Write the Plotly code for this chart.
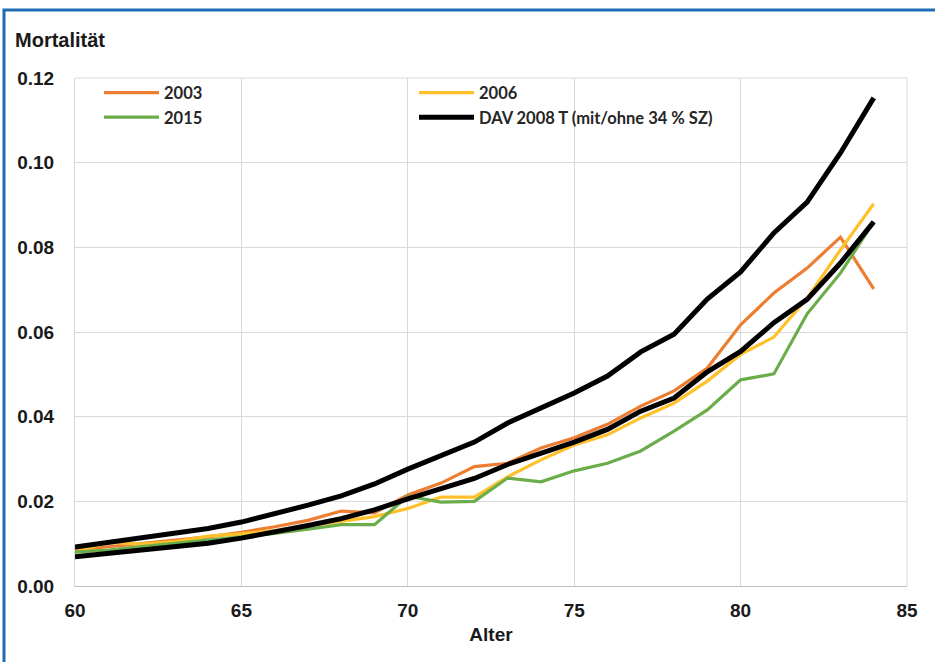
import plotly.graph_objects as go

ages = list(range(60, 85))

mort_2003 = [0.0085, 0.0093, 0.0101, 0.0108, 0.0116, 0.0127, 0.0140, 0.0155, 0.0177, 0.0173,
             0.0215, 0.0243, 0.0282, 0.0290, 0.0326, 0.0350, 0.0382, 0.0425, 0.0461, 0.0515,
             0.0617, 0.0692, 0.0751, 0.0824, 0.0702]
mort_2006 = [0.0080, 0.0103, 0.0099, 0.0105, 0.0118, 0.0123, 0.0131, 0.0142, 0.0152, 0.0164,
             0.0183, 0.0210, 0.0210, 0.0258, 0.0298, 0.0333, 0.0357, 0.0397, 0.0432, 0.0484,
             0.0547, 0.0588, 0.0680, 0.0794, 0.0903]
mort_2015 = [0.0080, 0.0085, 0.0093, 0.0101, 0.0109, 0.0117, 0.0124, 0.0134, 0.0145, 0.0145,
             0.0212, 0.0198, 0.0200, 0.0255, 0.0246, 0.0272, 0.0290, 0.0319, 0.0366, 0.0416,
             0.0487, 0.0501, 0.0643, 0.0739, 0.0860]
dav_mit_sz = [0.0092, 0.0103, 0.0114, 0.0125, 0.0136, 0.0151, 0.0170, 0.0191, 0.0213, 0.0241,
              0.0276, 0.0307, 0.0340, 0.0385, 0.0420, 0.0456, 0.0496, 0.0553, 0.0595, 0.0678,
              0.0742, 0.0834, 0.0907, 0.1023, 0.1153]
dav_ohne_sz = [0.0069, 0.0077, 0.0085, 0.0093, 0.0101, 0.0113, 0.0127, 0.0143, 0.0159, 0.0180,
               0.0206, 0.0229, 0.0254, 0.0287, 0.0313, 0.0340, 0.0370, 0.0413, 0.0444, 0.0506,
               0.0554, 0.0622, 0.0677, 0.0763, 0.0860]

x_ticks = [60, 65, 70, 75, 80, 85]
y_ticks = [0.00, 0.02, 0.04, 0.06, 0.08, 0.10, 0.12]
y_tick_labels = ["0.00", "0.02", "0.04", "0.06", "0.08", "0.10", "0.12"]

fig = go.Figure()
fig.add_trace(go.Scatter(x=ages, y=mort_2003, mode="lines", name="2003",
                         line=dict(color="#ED7D31", width=3.2)))
fig.add_trace(go.Scatter(x=ages, y=mort_2006, mode="lines", name="2006",
                         line=dict(color="#FFC02A", width=3.2)))
fig.add_trace(go.Scatter(x=ages, y=mort_2015, mode="lines", name="2015",
                         line=dict(color="#6AAD4A", width=3.2)))
fig.add_trace(go.Scatter(x=ages, y=dav_mit_sz, mode="lines", name="DAV 2008 T (mit/ohne 34 % SZ)",
                         line=dict(color="#000000", width=5)))
fig.add_trace(go.Scatter(x=ages, y=dav_ohne_sz, mode="lines", name="DAV 2008 T ohne SZ",
                         showlegend=False, line=dict(color="#000000", width=5)))

tick_font = dict(family="Liberation Sans, Arial, sans-serif", size=19, color="#1a1a1a")

fig.update_layout(
    width=935, height=662,
    margin=dict(l=75, r=28, t=78, b=76),
    paper_bgcolor="white", plot_bgcolor="white",
    showlegend=True,
    legend=dict(orientation="h", x=(99 - 75) / 832, y=1.005, xanchor="left", yanchor="top",
                entrywidth=245, itemwidth=55, bgcolor="rgba(0,0,0,0)",
                font=dict(family="Lato, Open Sans, sans-serif", size=16.5, color="#262626",
                          weight="bold"),
                traceorder="normal"),
    xaxis=dict(range=[60, 85], tickvals=x_ticks, ticktext=[str(v) for v in x_ticks],
               showgrid=True, gridcolor="#D9D9D9", gridwidth=1,
               showline=True, linecolor="#BFBFBF", linewidth=1, mirror=False,
               zeroline=False, ticks="", ticklabelstandoff=7,
               tickfont=dict(tick_font, weight="bold"),
               title=dict(text="<b>Alter</b>", font=dict(family="Liberation Sans, Arial, sans-serif",
                                                        size=19, color="#1a1a1a"), standoff=7)),
    yaxis=dict(range=[0, 0.12], tickvals=y_ticks, ticktext=y_tick_labels,
               showgrid=True, gridcolor="#D9D9D9", gridwidth=1,
               showline=True, linecolor="#D9D9D9", linewidth=1,
               zeroline=False, ticks="", ticklabelstandoff=16,
               tickfont=dict(tick_font, weight="bold")),
    annotations=[dict(text="<b>Mortalität</b>", xref="paper", yref="paper",
                      x=(13 - 75) / 832, y=(586 - 40) / 508, xanchor="left", yanchor="middle",
                      showarrow=False,
                      font=dict(family="Liberation Sans, Arial, sans-serif", size=20, color="#1a1a1a"))],
    shapes=[
        dict(type="line", xref="paper", yref="paper", x0=1, x1=1, y0=0, y1=1,
             line=dict(color="#D9D9D9", width=1)),
        dict(type="line", xref="paper", yref="paper", x0=0, x1=1, y0=1, y1=1,
             line=dict(color="#D9D9D9", width=1)),
        dict(type="rect", xref="paper", yref="paper",
             x0=(4 - 75) / 832, x1=(960 - 75) / 832,
             y0=(586 - 700) / 508, y1=(586 - 10) / 508,
             line=dict(color="#1F6CB5", width=3), fillcolor="rgba(0,0,0,0)", layer="above"),
    ],
)

fig.write_html("out.html", config={"displayModeBar": False},
               post_script="document.body.style.margin='0';")
